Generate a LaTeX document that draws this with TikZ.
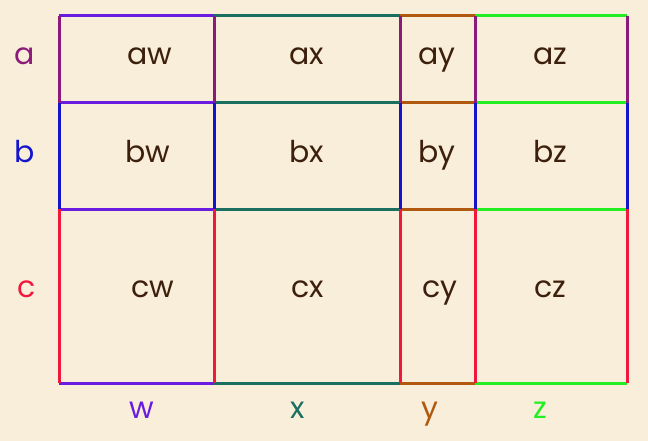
\documentclass[tikz,border=0pt]{standalone}
\usepackage{fontspec}
\setmainfont{Poppins}
\definecolor{bgcol}{HTML}{F9EEDA}
\definecolor{txtcol}{HTML}{3C200C}
\definecolor{rowa}{HTML}{8B1A7A}
\definecolor{rowb}{HTML}{1414CC}
\definecolor{rowc}{HTML}{F0183C}
\definecolor{colw}{HTML}{6A1BE0}
\definecolor{colx}{HTML}{1A7060}
\definecolor{coly}{HTML}{B0580E}
\definecolor{colz}{HTML}{22EE22}
\tikzset{
  cell/.style={anchor=base, text=txtcol, font=\fontsize{30}{34}\selectfont},
  head/.style={anchor=base, font=\fontsize{30}{34}\selectfont},
  edge/.style={line width=3pt}
}

\begin{document}
\begin{tikzpicture}[x=1pt, y=-1pt]
			% background and page size
			\fill[bgcol] (0, 0) rectangle (648, 441);
			\useasboundingbox (0, 0) rectangle (648, 441);
			% grid corners
			\coordinate (W0) at (59, 0);
			\coordinate (W1) at (214, 0);
			\coordinate (W2) at (400, 0);
			\coordinate (W3) at (475, 0);
			\coordinate (W4) at (627, 0);
			\coordinate (H0) at (0, 16);
			\coordinate (H1) at (0, 103);
			\coordinate (H2) at (0, 209);
			\coordinate (H3) at (0, 383);

			% horizontal edges take the colour of their column
			\draw[edge, colw] (W0 |- H0) -- (W1 |- H0);
			\draw[edge, colw] (W0 |- H1) -- (W1 |- H1);
			\draw[edge, colw] (W0 |- H2) -- (W1 |- H2);
			\draw[edge, colw] (W0 |- H3) -- (W1 |- H3);
			\draw[edge, colx] (W1 |- H0) -- (W2 |- H0);
			\draw[edge, colx] (W1 |- H1) -- (W2 |- H1);
			\draw[edge, colx] (W1 |- H2) -- (W2 |- H2);
			\draw[edge, colx] (W1 |- H3) -- (W2 |- H3);
			\draw[edge, coly] (W2 |- H0) -- (W3 |- H0);
			\draw[edge, coly] (W2 |- H1) -- (W3 |- H1);
			\draw[edge, coly] (W2 |- H2) -- (W3 |- H2);
			\draw[edge, coly] (W2 |- H3) -- (W3 |- H3);
			\draw[edge, colz] (W3 |- H0) -- (W4 |- H0);
			\draw[edge, colz] (W3 |- H1) -- (W4 |- H1);
			\draw[edge, colz] (W3 |- H2) -- (W4 |- H2);
			\draw[edge, colz] (W3 |- H3) -- (W4 |- H3);

			% vertical edges take the colour of their row
			\draw[edge, rowa] (W0 |- H0) -- (W0 |- H1);
			\draw[edge, rowa] (W1 |- H0) -- (W1 |- H1);
			\draw[edge, rowa] (W2 |- H0) -- (W2 |- H1);
			\draw[edge, rowa] (W3 |- H0) -- (W3 |- H1);
			\draw[edge, rowa] (W4 |- H0) -- (W4 |- H1);
			\draw[edge, rowb] (W0 |- H1) -- (W0 |- H2);
			\draw[edge, rowb] (W1 |- H1) -- (W1 |- H2);
			\draw[edge, rowb] (W2 |- H1) -- (W2 |- H2);
			\draw[edge, rowb] (W3 |- H1) -- (W3 |- H2);
			\draw[edge, rowb] (W4 |- H1) -- (W4 |- H2);
			\draw[edge, rowc] (W0 |- H2) -- (W0 |- H3);
			\draw[edge, rowc] (W1 |- H2) -- (W1 |- H3);
			\draw[edge, rowc] (W2 |- H2) -- (W2 |- H3);
			\draw[edge, rowc] (W3 |- H2) -- (W3 |- H3);
			\draw[edge, rowc] (W4 |- H2) -- (W4 |- H3);

			% row and column headings
			\node[head, text=rowa] (a) at (25, 65) {a};
			\node[head, text=rowb] (b) at (25, 163) {b};
			\node[head, text=rowc] (c) at (27, 297) {c};
			\node[head, text=colw] (w) at (142, 418) {w};
			\node[head, text=colx] (x) at (298, 418) {x};
			\node[head, text=coly] (y) at (430, 418) {y};
			\node[head, text=colz] (z) at (540, 418) {z};

			% cells
			\node[cell] (aw) at (150, 65) {aw};
			\node[cell] (ax) at (307, 65) {ax};
			\node[cell] (ay) at (437, 65) {ay};
			\node[cell] (az) at (550, 65) {az};
			\node[cell] (bw) at (148, 163) {bw};
			\node[cell] (bx) at (307, 163) {bx};
			\node[cell] (by) at (437, 163) {by};
			\node[cell] (bz) at (550, 163) {bz};
			\node[cell] (cw) at (153, 297) {cw};
			\node[cell] (cx) at (308, 297) {cx};
			\node[cell] (cy) at (440, 297) {cy};
			\node[cell] (cz) at (550, 297) {cz};
		\end{tikzpicture}
\end{document}
